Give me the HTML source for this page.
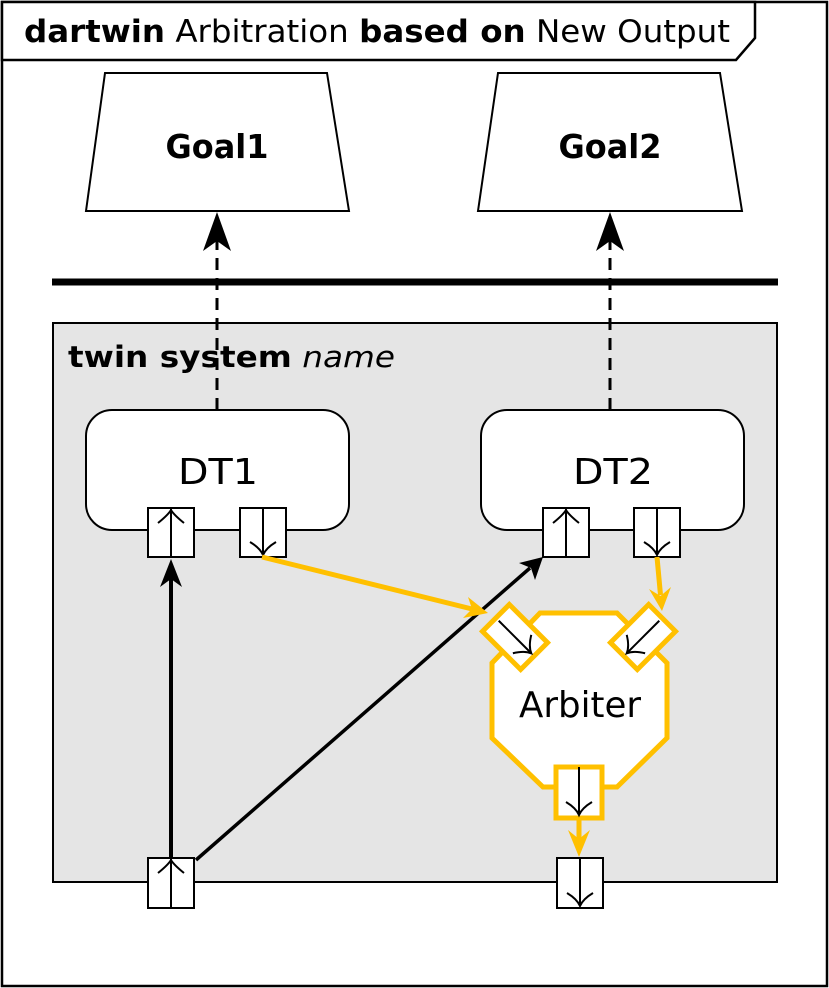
<!DOCTYPE html>
<html><head><meta charset="utf-8"><style>
html,body{margin:0;padding:0;background:#fff;}
svg{display:block;}
text{font-family:"DejaVu Sans","Liberation Sans",sans-serif;}
</style></head><body>
<svg width="829" height="988" viewBox="0 0 829 988" xmlns="http://www.w3.org/2000/svg">
<rect x="2" y="2" width="825" height="984" fill="#fff" stroke="#000" stroke-width="2.5"/>
<polygon points="2,2 755,2 755,38 736,60 2,60" fill="#fff" stroke="#000" stroke-width="2.5"/>
<text x="24" y="42" font-size="31" textLength="706" lengthAdjust="spacingAndGlyphs"><tspan font-weight="bold">dartwin</tspan> Arbitration <tspan font-weight="bold">based on</tspan> New Output</text>

<polygon points="105,73 327,73 349,211 86,211" fill="#fff" stroke="#000" stroke-width="2"/>
<text x="217" y="158" font-size="33" font-weight="bold" text-anchor="middle" textLength="103" lengthAdjust="spacingAndGlyphs">Goal1</text>
<polygon points="498,73 720,73 742,211 478,211" fill="#fff" stroke="#000" stroke-width="2"/>
<text x="610" y="158" font-size="33" font-weight="bold" text-anchor="middle" textLength="103" lengthAdjust="spacingAndGlyphs">Goal2</text>

<line x1="52" y1="282" x2="778" y2="282" stroke="#000" stroke-width="7"/>

<rect x="53" y="323" width="724" height="559" fill="#e5e5e5" stroke="#000" stroke-width="2"/>
<text x="68" y="367" font-size="29" textLength="327" lengthAdjust="spacingAndGlyphs"><tspan font-weight="bold">twin system</tspan> <tspan font-style="italic">name</tspan></text>

<line x1="217" y1="410" x2="217" y2="240" stroke="#000" stroke-width="3" stroke-dasharray="12,8"/>
<polygon points="217,212 203,251 217,241 231,251" fill="#000"/>
<line x1="610" y1="410" x2="610" y2="240" stroke="#000" stroke-width="3" stroke-dasharray="12,8"/>
<polygon points="610,212 596,251 610,241 624,251" fill="#000"/>

<rect x="86" y="410" width="263" height="120" rx="26" fill="#fff" stroke="#000" stroke-width="2"/>
<text x="218" y="484" font-size="36" text-anchor="middle" textLength="80" lengthAdjust="spacingAndGlyphs">DT1</text>
<rect x="481" y="410" width="263" height="120" rx="26" fill="#fff" stroke="#000" stroke-width="2"/>
<text x="613" y="484" font-size="36" text-anchor="middle" textLength="80" lengthAdjust="spacingAndGlyphs">DT2</text>

<g fill="#fff" stroke="#000" stroke-width="2">
<rect x="148" y="508" width="46" height="49"/><rect x="240" y="508" width="46" height="49"/>
<rect x="543" y="508" width="46" height="49"/><rect x="634" y="508" width="46" height="49"/>
<rect x="148" y="858" width="46" height="50"/><rect x="557" y="858" width="46" height="50"/>
</g>
<g fill="none" stroke="#000" stroke-width="2">
<line x1="171" y1="508" x2="171" y2="557"/><path d="M158,523 Q168,515 171,510 Q174,515 184,523"/>
<line x1="263" y1="508" x2="263" y2="555"/><path d="M250,542 Q260,548 263,555 Q266,548 276,542"/>
<line x1="566" y1="508" x2="566" y2="557"/><path d="M553,523 Q563,515 566,510 Q569,515 579,523"/>
<line x1="657" y1="508" x2="657" y2="555"/><path d="M644,542 Q654,548 657,555 Q660,548 670,542"/>
<line x1="171" y1="858" x2="171" y2="908"/><path d="M158,873 Q168,865 171,860 Q174,865 184,873"/>
<line x1="580" y1="858" x2="580" y2="906"/><path d="M567,893 Q577,899 580,906 Q583,899 593,893"/>
</g>

<polygon points="540,613 617,613 667,663 667,738 617,787 543,787 492,738 492,663" fill="#fff" stroke="#ffc000" stroke-width="5"/>
<text x="580" y="717" font-size="36" text-anchor="middle" textLength="122" lengthAdjust="spacingAndGlyphs">Arbiter</text>
<g transform="translate(515,637) rotate(45)">
<rect x="-27" y="-19" width="54" height="38" fill="#fff" stroke="#ffc000" stroke-width="5"/>
<line x1="-23" y1="0" x2="23" y2="0" stroke="#000" stroke-width="2"/>
<path d="M10,-13 Q16,-3 23,0 Q16,3 10,13" fill="none" stroke="#000" stroke-width="2"/>
</g>
<g transform="translate(643,637) rotate(135)">
<rect x="-27" y="-19" width="54" height="38" fill="#fff" stroke="#ffc000" stroke-width="5"/>
<line x1="-23" y1="0" x2="23" y2="0" stroke="#000" stroke-width="2"/>
<path d="M10,-13 Q16,-3 23,0 Q16,3 10,13" fill="none" stroke="#000" stroke-width="2"/>
</g>
<rect x="556" y="767" width="46" height="51" fill="#fff" stroke="#ffc000" stroke-width="5"/>
<line x1="579" y1="767" x2="579" y2="815" stroke="#000" stroke-width="2"/>
<path d="M566,802 Q576,808 579,815 Q582,808 592,802" fill="none" stroke="#000" stroke-width="2"/>

<line x1="171" y1="858" x2="171" y2="578" stroke="#000" stroke-width="4"/>
<polygon points="171,559 160,587 171,579 182,587" fill="#000"/>
<line x1="196" y1="860" x2="530" y2="568" stroke="#000" stroke-width="3.5"/>
<polygon points="543,557 535,580 531,568 519,563" fill="#000"/>

<g stroke="#ffc000" stroke-width="5" fill="none">
<line x1="262" y1="557" x2="472" y2="609"/>
<line x1="657" y1="557" x2="660.5" y2="595"/>
<line x1="579" y1="818" x2="579" y2="840"/>
</g>
<g fill="#ffc000">
<polygon points="488,613 463,618 472,609 468,597"/>
<polygon points="662,611 649,589 660.5,596 671,587"/>
<polygon points="579,857 568,830 579,839 590,830"/>
</g>
</svg>
</body></html>
